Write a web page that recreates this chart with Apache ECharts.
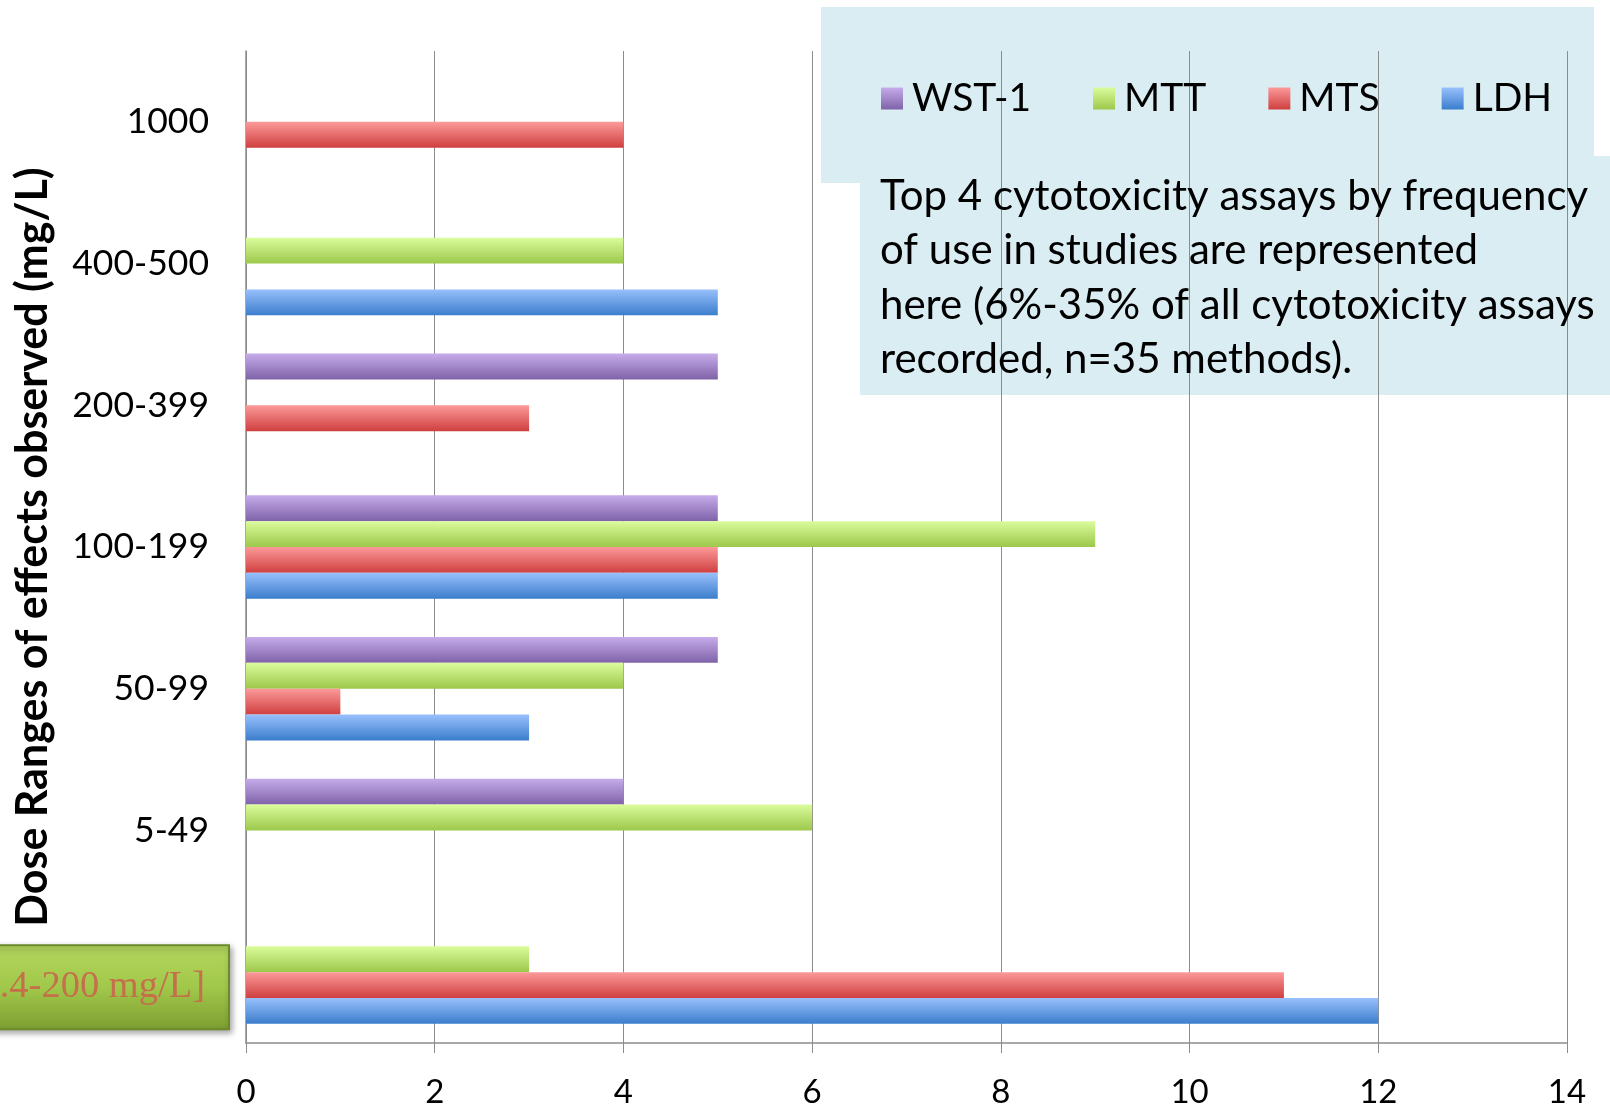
<!DOCTYPE html>
<html>
<head>
<meta charset="utf-8">
<script src="https://cdn.jsdelivr.net/npm/echarts@6/dist/echarts.min.js"></script>
<style>
  html, body { margin: 0; padding: 0; background: #fff; }
  #chart { width: 1610px; height: 1109px; }
</style>
</head>
<body>
<div id="chart"></div>
<script>
// Dose ranges (bottom to top); the lowest range is labelled by the green box
const doseRanges = ['[0.4-200 mg/L]', '5-49', '50-99', '100-199', '200-399', '400-500', '1000'];

// Number of studies per assay in each dose range
const wst1 = [0, 4, 5, 5, 5, 0, 0];
const mtt  = [3, 6, 4, 9, 0, 4, 0];
const mts  = [11, 0, 1, 5, 3, 0, 4];
const ldh  = [12, 0, 3, 5, 0, 5, 0];

const xTicks = [0, 2, 4, 6, 8, 10, 12, 14];

const note = [
  'Top 4 cytotoxicity assays by frequency',
  'of use in studies are represented',
  'here (6%-35% of all cytotoxicity assays',
  'recorded, n=35 methods).'
];

const FONT = 'Lato, "Open Sans", sans-serif';

function grad(top, bottom) {
  return new echarts.graphic.LinearGradient(0, 0, 0, 1, [
    { offset: 0, color: top },
    { offset: 1, color: bottom }
  ]);
}

function barSeries(name, data, top, bottom) {
  return {
    name: name,
    type: 'bar',
    data: data,
    barGap: '0%',
    barCategoryGap: '27%',
    itemStyle: {
      color: grad(top, bottom),
      shadowColor: 'rgba(0,0,0,0.25)',
      shadowBlur: 4,
      shadowOffsetX: 2,
      shadowOffsetY: 2
    },
    emphasis: { disabled: true }
  };
}

const chart = echarts.init(document.getElementById('chart'), null, { renderer: 'canvas' });

const option = {
  animation: false,
  backgroundColor: '#ffffff',
  grid: { left: 246, right: 43, top: 51, bottom: 64, containLabel: false },
  xAxis: {
    type: 'value',
    min: 0,
    max: 14,
    interval: 2,
    axisLine: { show: true, lineStyle: { color: '#8c8c8c', width: 1.5 } },
    axisTick: { show: true, length: 10, lineStyle: { color: '#8c8c8c' } },
    splitLine: { show: true, lineStyle: { color: '#8c8c8c', width: 1 } },
    axisLabel: {
      margin: 33,
      fontFamily: FONT,
      fontSize: 33,
      color: '#000',
      formatter: v => (xTicks.indexOf(v) >= 0 ? String(v) : '')
    }
  },
  yAxis: {
    type: 'category',
    data: doseRanges,
    name: 'Dose Ranges of effects observed (mg/L)',
    nameLocation: 'middle',
    nameGap: 191,
    nameRotate: 90,
    nameTextStyle: { fontFamily: FONT, fontWeight: 'bold', fontSize: 43, color: '#000' },
    axisLine: { show: true, lineStyle: { color: '#8c8c8c', width: 1.5 } },
    axisTick: { show: false },
    axisLabel: {
      margin: 37,
      fontFamily: FONT,
      fontSize: 35.5,
      color: '#000',
      formatter: (v, i) => (i === 0 ? '' : v)
    }
  },
  legend: {
    data: ['WST-1', 'MTT', 'MTS', 'LDH'],
    icon: 'rect',
    left: 876,
    top: 74,
    itemWidth: 22,
    itemHeight: 22,
    itemGap: 62,
    textStyle: { fontFamily: FONT, fontSize: 39, color: '#000', padding: [0, 0, 0, 4] }
  },
  // Series listed top-to-bottom within each range
  series: [
    barSeries('WST-1', wst1, '#c6acea', '#7f62a8'),
    barSeries('MTT', mtt, '#dbfc9c', '#9cc84b'),
    barSeries('MTS', mts, '#fc9a9a', '#cf3f3f'),
    barSeries('LDH', ldh, '#98c0fc', '#3b7dcc')
  ]
};

chart.setOption(option);

// Annotation panels behind the legend, and the box for the lowest dose range
const boxY = chart.convertToPixel({ yAxisIndex: 0 }, doseRanges[0]) + 15;
chart.setOption({
  graphic: [
    {
      type: 'rect', z: -1, silent: true,
      shape: { x: 821, y: 7, width: 773, height: 176 },
      style: { fill: '#daedf3' }
    },
    {
      type: 'rect', z: -1, silent: true,
      shape: { x: 860, y: 156, width: 750, height: 239 },
      style: { fill: '#daedf3' }
    },
    {
      type: 'text', z: 10, silent: true,
      x: 880, y: 169,
      style: {
        text: note.join('\n'),
        fontFamily: FONT,
        fontSize: 42,
        lineHeight: 54.5,
        fill: '#000'
      }
    },
    {
      type: 'rect', z: 10, silent: true,
      shape: { x: -20, y: boxY - 42, width: 249, height: 84 },
      style: {
        fill: new echarts.graphic.LinearGradient(0, 0, 0, 1, [
          { offset: 0, color: '#b3d65e' },
          { offset: 0.5, color: '#a1c84a' },
          { offset: 1, color: '#7e9e31' }
        ]),
        stroke: '#6d8a2a',
        lineWidth: 2,
        shadowColor: 'rgba(0,0,0,0.35)',
        shadowBlur: 6,
        shadowOffsetX: 2,
        shadowOffsetY: 3
      }
    },
    {
      type: 'text', z: 11, silent: true,
      x: 205, y: boxY,
      style: {
        text: '[0.4-200 mg/L]',
        fontFamily: '"Liberation Serif", "DejaVu Serif", serif',
        fontSize: 38.5,
        fill: '#c4704a',
        align: 'right',
        verticalAlign: 'middle'
      }
    }
  ]
});
</script>
</body>
</html>
